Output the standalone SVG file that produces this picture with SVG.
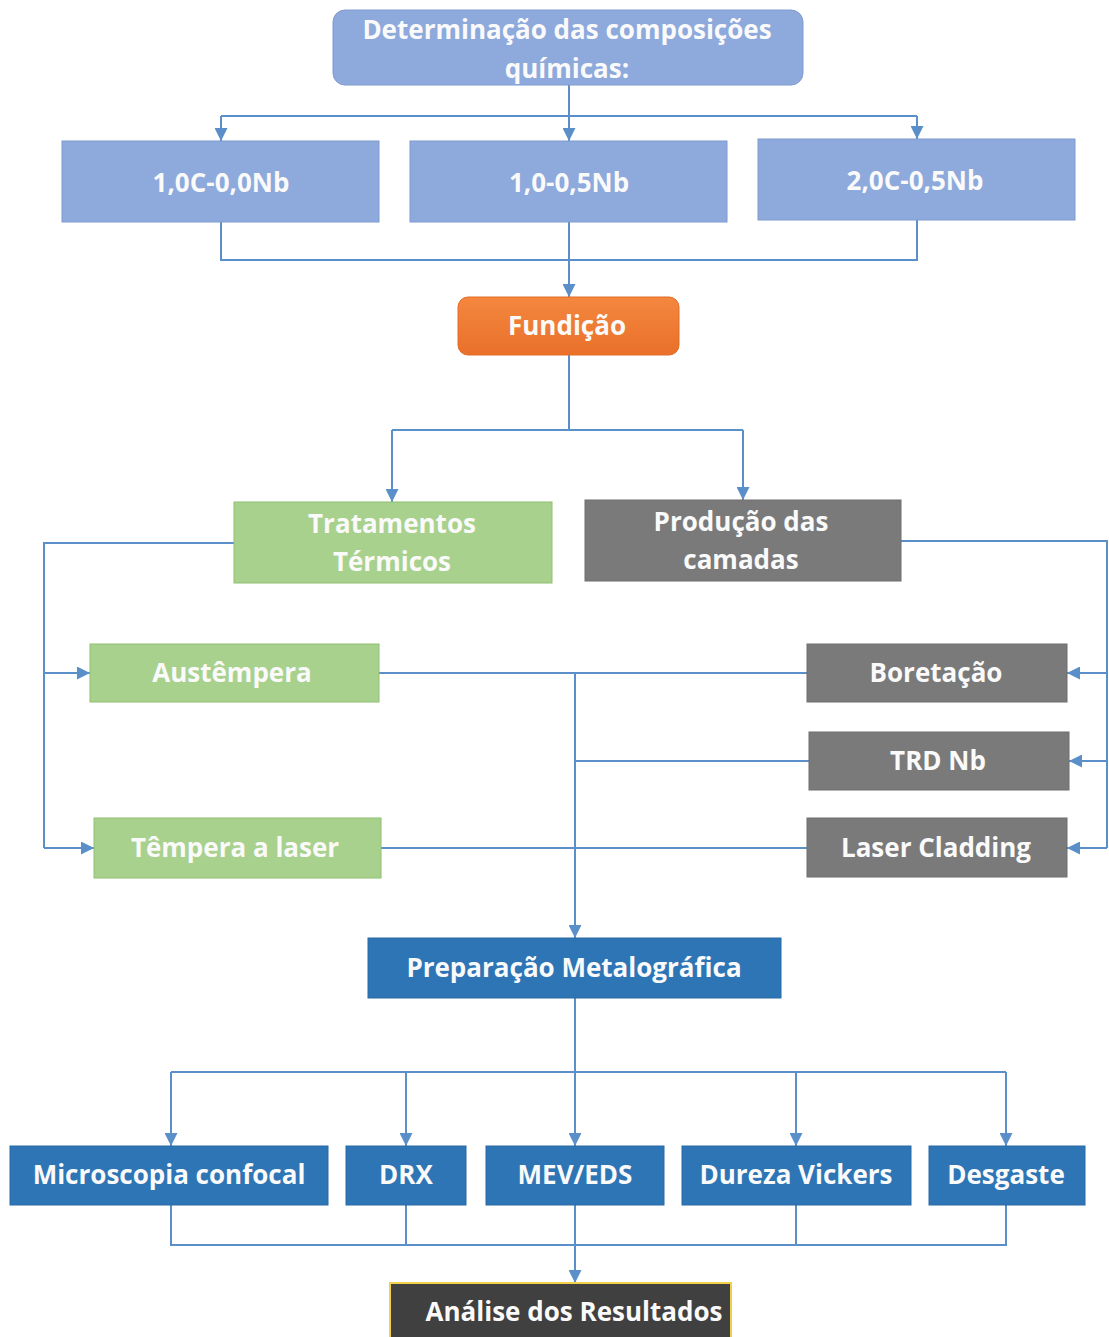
<svg xmlns="http://www.w3.org/2000/svg" width="1109" height="1337" viewBox="0 0 1109 1337">
<defs>
<marker id="ah" viewBox="0 0 10 10" refX="10" refY="5" markerWidth="13" markerHeight="13" markerUnits="userSpaceOnUse" orient="auto">
<path d="M0,0 L10,5 L0,10 z" fill="#5B8FC9"/>
</marker>
<linearGradient id="og" x1="0" y1="0" x2="0" y2="1">
<stop offset="0" stop-color="#F4873F"/>
<stop offset="1" stop-color="#E9702A"/>
</linearGradient>
</defs>
<style>
.t{font-family:"Open Sans","Noto Sans","Liberation Sans",sans-serif;font-weight:bold;font-size:26px;fill:#FAFAFA;text-anchor:middle;dominant-baseline:central}
.lb{fill:#8EA9DB;stroke:#7F9BD0;stroke-width:1}
.gr{fill:#A9D18E;stroke:#8FBF72;stroke-width:1}
.gy{fill:#7A7A7A;stroke:#6E6E6E;stroke-width:1}
.bl{fill:#2E75B6;stroke:#2A6AA6;stroke-width:1}
.c{fill:none;stroke:#5B8FC9;stroke-width:2}
.a{marker-end:url(#ah)}
</style>
<rect width="1109" height="1337" fill="#FFFFFF"/>
<g id="connectors">
<path class="c" d="M569,85 V116"/>
<path class="c" d="M221,116 H917"/>
<path class="c a" d="M221,116 V141"/>
<path class="c a" d="M569,116 V141"/>
<path class="c a" d="M917,116 V139"/>
<path class="c" d="M221,222 V260 H917 V220"/>
<path class="c a" d="M569,222 V297"/>
<path class="c" d="M569,355 V430"/>
<path class="c" d="M392,430 H743"/>
<path class="c a" d="M392,430 V502"/>
<path class="c a" d="M743,430 V500"/>
<path class="c" d="M234,543 H44 V848"/>
<path class="c a" d="M44,673 H90"/>
<path class="c a" d="M44,848 H94"/>
<path class="c" d="M901,541 H1107 V848"/>
<path class="c a" d="M1107,673 H1067"/>
<path class="c a" d="M1107,761 H1069"/>
<path class="c a" d="M1107,848 H1067"/>
<path class="c" d="M379,673 H807"/>
<path class="c" d="M809,761 H575"/>
<path class="c" d="M381,848 H807"/>
<path class="c a" d="M575,673 V938"/>
<path class="c" d="M575,998 V1072"/>
<path class="c" d="M171,1072 H1006"/>
<path class="c a" d="M171,1072 V1146"/>
<path class="c a" d="M406,1072 V1146"/>
<path class="c a" d="M575,1072 V1146"/>
<path class="c a" d="M796,1072 V1146"/>
<path class="c a" d="M1006,1072 V1146"/>
<path class="c" d="M171,1205 V1245 H1006 V1205"/>
<path class="c" d="M406,1205 V1245"/>
<path class="c" d="M796,1205 V1245"/>
<path class="c a" d="M575,1205 V1283"/>
</g>
<g id="n-composicoes">
<rect class="lb" x="333" y="10" width="470" height="75" rx="12"/>
<text class="t" x="567" y="29">Determinação das composições</text>
<text class="t" x="567" y="68">químicas:</text>
</g>
<g id="n-c1">
<rect class="lb" x="62" y="141" width="317" height="81"/>
<text class="t" x="221" y="182">1,0C-0,0Nb</text>
</g>
<g id="n-c2">
<rect class="lb" x="410" y="141" width="317" height="81"/>
<text class="t" x="569" y="182">1,0-0,5Nb</text>
</g>
<g id="n-c3">
<rect class="lb" x="758" y="139" width="317" height="81"/>
<text class="t" x="915" y="180">2,0C-0,5Nb</text>
</g>
<g id="n-fundicao">
<rect x="458" y="297" width="221" height="58" rx="10" fill="url(#og)" stroke="#E36C25"/>
<text class="t" x="567" y="325">Fundição</text>
</g>
<g id="n-tratamentos">
<rect class="gr" x="234" y="502" width="318" height="81"/>
<text class="t" x="392" y="523">Tratamentos</text>
<text class="t" x="392" y="561">Térmicos</text>
</g>
<g id="n-producao">
<rect class="gy" x="585" y="500" width="316" height="81"/>
<text class="t" x="741" y="521">Produção das</text>
<text class="t" x="741" y="559">camadas</text>
</g>
<g id="n-austempera">
<rect class="gr" x="90" y="644" width="289" height="58"/>
<text class="t" x="232" y="672">Austêmpera</text>
</g>
<g id="n-tempera">
<rect class="gr" x="94" y="818" width="287" height="60"/>
<text class="t" x="235" y="847">Têmpera a laser</text>
</g>
<g id="n-boretacao">
<rect class="gy" x="807" y="644" width="260" height="58"/>
<text class="t" x="936" y="672">Boretação</text>
</g>
<g id="n-trd">
<rect class="gy" x="809" y="732" width="260" height="58"/>
<text class="t" x="938" y="760">TRD Nb</text>
</g>
<g id="n-cladding">
<rect class="gy" x="807" y="818" width="260" height="59"/>
<text class="t" x="936" y="847">Laser Cladding</text>
</g>
<g id="n-preparacao">
<rect class="bl" x="368" y="938" width="413" height="60"/>
<text class="t" x="574" y="967">Preparação Metalográfica</text>
</g>
<g id="n-microscopia">
<rect class="bl" x="10" y="1146" width="318" height="59"/>
<text class="t" x="169" y="1174">Microscopia confocal</text>
</g>
<g id="n-drx">
<rect class="bl" x="346" y="1146" width="120" height="59"/>
<text class="t" x="406" y="1174">DRX</text>
</g>
<g id="n-mev">
<rect class="bl" x="486" y="1146" width="178" height="59"/>
<text class="t" x="575" y="1174">MEV/EDS</text>
</g>
<g id="n-dureza">
<rect class="bl" x="682" y="1146" width="229" height="59"/>
<text class="t" x="796" y="1174">Dureza Vickers</text>
</g>
<g id="n-desgaste">
<rect class="bl" x="929" y="1146" width="156" height="59"/>
<text class="t" x="1006" y="1174">Desgaste</text>
</g>
<g id="n-analise">
<rect x="390" y="1283" width="341" height="60" fill="#404040" stroke="#F2D14A" stroke-width="2"/>
<text class="t" x="574" y="1311">Análise dos Resultados</text>
</g>
</svg>
